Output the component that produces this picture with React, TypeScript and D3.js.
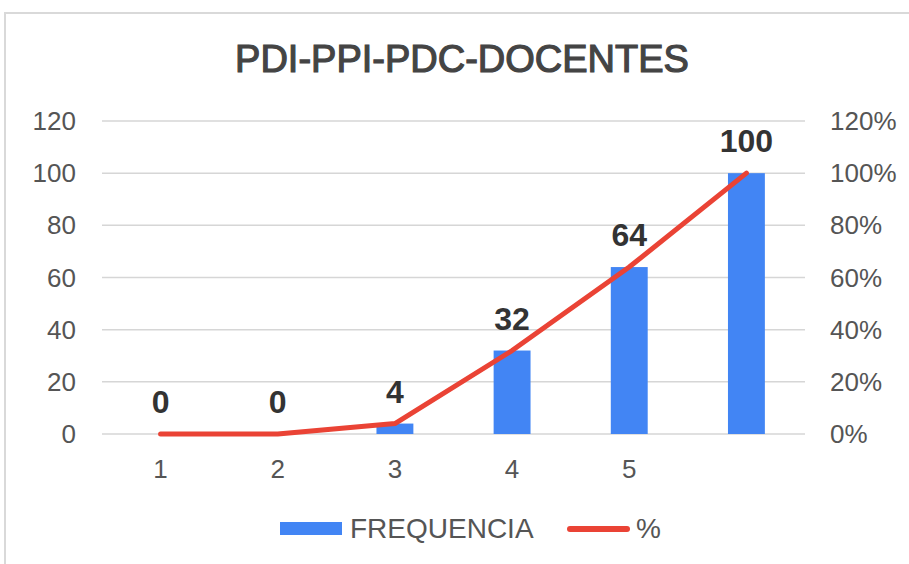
import React from "react";
import * as d3 from "d3";

const categories = ["1", "2", "3", "4", "5", ""];
const frequencia = [0, 0, 4, 32, 64, 100];
const percent = [0, 0, 0.04, 0.32, 0.64, 1.0];
const leftTicks = [0, 20, 40, 60, 80, 100, 120];
const rightTicks = [0, 0.2, 0.4, 0.6, 0.8, 1.0, 1.2];

const W = 909;
const H = 564;
const FONT = "'Liberation Sans', Arial, sans-serif";

export default function App() {
  const x = d3.scaleBand<string>().domain(categories.map((c, i) => String(i))).range([102, 805]).paddingInner(0.685).paddingOuter(0.3425);
  const xc = (i: number) => (x(String(i)) as number) + x.bandwidth() / 2;
  const yL = d3.scaleLinear().domain([0, 120]).range([434, 121]);
  const yR = d3.scaleLinear().domain([0, 1.2]).range([434, 121]);
  const line = d3.line<number>().x((_, i) => xc(i)).y((d) => yR(d));
  const fmtPct = d3.format(".0%");

  return (
    <svg width={W} height={H} style={{ position: "absolute", left: 0, top: 0, background: "#fff" }}>
      <rect x={0} y={0} width={W} height={H} fill="#fff" />
      <rect x={5} y={13} width={W + 20} height={H + 20} fill="#fff" stroke="#d9d9d9" strokeWidth={2} />
      <text x={462} y={72} textAnchor="middle" fontFamily={FONT} fontSize={38} fill="#444" stroke="#444" strokeWidth={1.2}>
        PDI-PPI-PDC-DOCENTES
      </text>
      {leftTicks.map((t) => (
        <line key={"g" + t} x1={102} x2={805} y1={yL(t)} y2={yL(t)} stroke="#d6d6d6" strokeWidth={1.5} />
      ))}
      {leftTicks.map((t) => (
        <text key={"l" + t} x={76} y={yL(t) + 9} textAnchor="end" fontFamily={FONT} fontSize={26} fill="#555">
          {t}
        </text>
      ))}
      {rightTicks.map((t) => (
        <text key={"r" + t} x={830} y={yR(t) + 9} textAnchor="start" fontFamily={FONT} fontSize={26} fill="#555">
          {fmtPct(t)}
        </text>
      ))}
      {categories.map((c, i) => (
        <text key={"c" + i} x={xc(i)} y={478} textAnchor="middle" fontFamily={FONT} fontSize={26} fill="#555">
          {c}
        </text>
      ))}
      {frequencia.map((v, i) => (
        <rect key={"b" + i} x={x(String(i))} y={yL(v)} width={x.bandwidth()} height={yL(0) - yL(v)} fill="#4285f4" />
      ))}
      <path d={line(percent) || ""} fill="none" stroke="#ea4335" strokeWidth={5} strokeLinejoin="round" strokeLinecap="round" />
      {frequencia.map((v, i) => (
        <text key={"d" + i} x={xc(i)} y={yL(v) - 21} textAnchor="middle" fontFamily={FONT} fontSize={32} fontWeight="bold" fill="#333">
          {v}
        </text>
      ))}
      <rect x={280} y={522} width={62} height={13} fill="#4285f4" />
      <text x={350} y={538} fontFamily={FONT} fontSize={28} fill="#555">FREQUENCIA</text>
      <line x1={570} x2={627} y1={529} y2={529} stroke="#ea4335" strokeWidth={6} strokeLinecap="round" />
      <text x={636} y={538} fontFamily={FONT} fontSize={28} fill="#555">%</text>
    </svg>
  );
}
